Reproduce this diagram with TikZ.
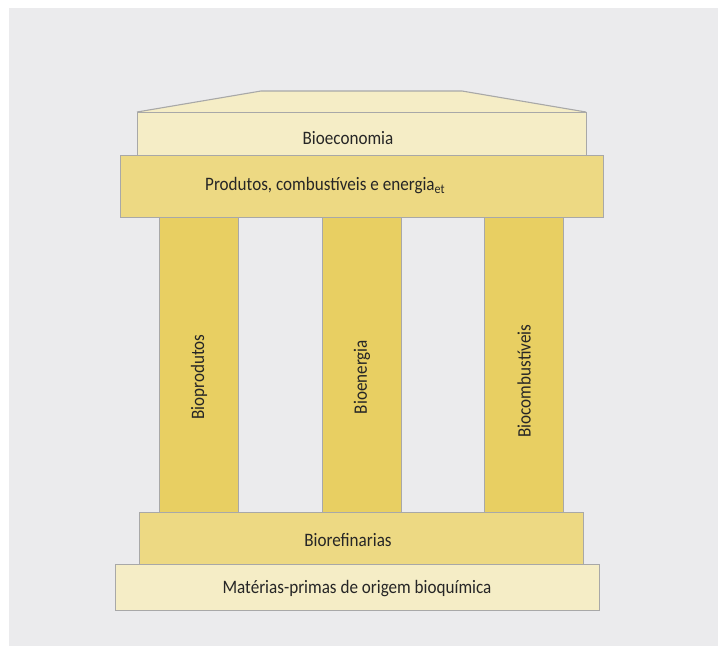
\documentclass[tikz,border=0pt]{standalone}
\usepackage{fontspec}
\setmainfont{Carlito}[FakeStretch=0.9]
\definecolor{bggray}{HTML}{EBEBED}
\definecolor{lightyel}{HTML}{F5EDC6}
\definecolor{midyel}{HTML}{EDD983}
\definecolor{colyel}{HTML}{E8CF62}
\definecolor{edgegray}{HTML}{A8A8A8}
\definecolor{txt}{HTML}{262626}
\tikzset{
  slab/.style={draw=edgegray, line width=1.1pt, inner sep=0pt, anchor=north west},
  lbl/.style={text=txt, font=\fontsize{19}{22}\selectfont, inner sep=0pt}
}
\begin{document}
\begin{tikzpicture}[x=1pt,y=-1pt]
\useasboundingbox (0,0) rectangle (718,646);
\fill[white] (0,0) rectangle (718,646);
\fill[bggray] (9,8) rectangle (718,646);
% roof
\filldraw[fill=lightyel, draw=edgegray, line width=1.1pt] (137,112) -- (261,91) -- (462,91) -- (586,112);
% Bioeconomia slab
\node[slab, fill=lightyel, minimum width=449pt, minimum height=43pt] (eco) at (137,112) {};
% columns
\node[slab, fill=colyel, minimum width=79pt, minimum height=295pt] (c1) at (159,217) {};
\node[slab, fill=colyel, minimum width=79pt, minimum height=295pt] (c2) at (322,217) {};
\node[slab, fill=colyel, minimum width=79pt, minimum height=295pt] (c3) at (484,217) {};
% Produtos slab
\node[slab, fill=midyel, minimum width=483pt, minimum height=62pt] (prod) at (120,155) {};
% Biorefinarias slab
\node[slab, fill=midyel, minimum width=444pt, minimum height=52pt] (refi) at (139,512) {};
% Materias slab
\node[slab, fill=lightyel, minimum width=484pt, minimum height=46pt] (mat) at (115,564) {};
% labels
\node[lbl] (teco) at (348,138) {Bioeconomia};
\node[lbl, anchor=west] (tprod) at (205,186) {Produtos, combustíveis e energia\textsubscript{et}};
\node[lbl, rotate=90] (t1) at (199,377) {Bioprodutos};
\node[lbl, rotate=90] (t2) at (362,377) {Bioenergia};
\node[lbl, rotate=90] (t3) at (524,381) {Biocombustíveis};
\node[lbl] (trefi) at (348,540) {Biorefinarias};
\node[lbl] (tmat) at (357,589) {Matérias-primas de origem bioquímica};
\end{tikzpicture}
\end{document}
